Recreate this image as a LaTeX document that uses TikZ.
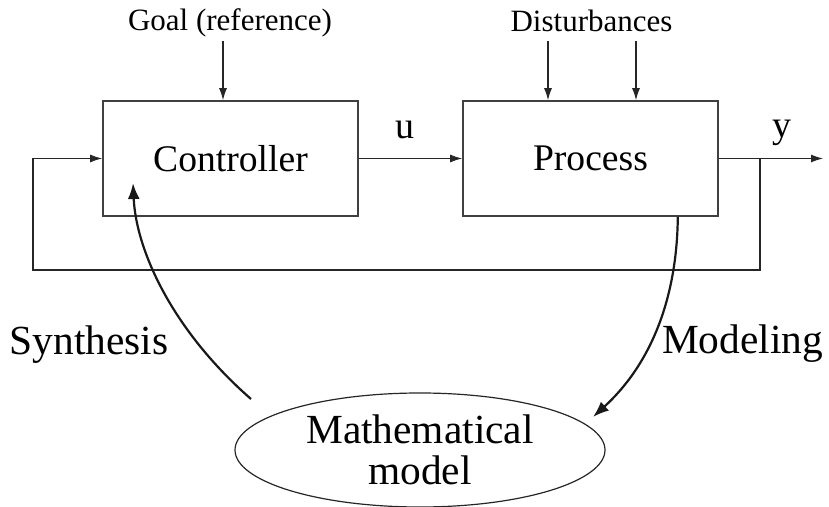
\documentclass[tikz,border=0pt]{standalone}
\usepackage{fontspec}
\setmainfont{Liberation Serif}
\usetikzlibrary{arrows.meta,positioning,calc,shapes.geometric}

\begin{document}
\begin{tikzpicture}[x=0.5pt,y=-0.5pt,
  block/.style={draw=black!75,line width=0.8pt,minimum width=127.5pt,minimum height=57.5pt,inner sep=0pt,font=\fontsize{18.8}{20}\selectfont},
  sig/.style={draw=black!85,line width=0.55pt,-{Latex[length=6pt,width=4pt]}},
  curvearrow/.style={draw=black!90,line width=1.1pt,-{Latex[length=8pt,width=6pt]}},
  small/.style={font=\fontsize{15.5}{17}\selectfont,inner sep=0pt,anchor=base},
  lab/.style={font=\fontsize{19}{20}\selectfont,inner sep=0pt,anchor=base},
  big/.style={font=\fontsize{20.7}{22}\selectfont,inner sep=0pt,anchor=base}
]
\useasboundingbox (0,0) rectangle (829,507);

% the blocks
\node[block] (ctrl) at (230.5,158.5) {Controller};
\node[block] (proc) at (590.5,158.5) {Process};
\node[ellipse,draw=black!85,line width=0.6pt,minimum width=185pt,minimum height=57pt,inner sep=0pt,
  align=center,font=\fontsize{20.7}{20.2}\selectfont] (mm) at (420,450) {Mathematical\\model};

% the labels
\node[small] (goal) at (230,31) {Goal (reference)};
\node[small] (dist) at (591.5,32) {Disturbances};
\node[lab] (u) at (405,139) {u};
\node[lab] (y) at (782,138) {y};
\node[big] (syn) at (89,355) {Synthesis};
\node[big] (mod) at (742.5,354) {Modeling};

\coordinate (out) at (823,158.5);
\coordinate (br) at (760,158.5);
\coordinate (fb) at (33,270);
\coordinate (synA) at (251,399);
\coordinate (synB) at (133,183);
\coordinate (modA) at ($(proc.south east)+(-41,0)$);
\coordinate (modB) at (593,417);

% the edges
\draw[sig] ([xshift=-3.75pt]ctrl.north) ++(0,-59) -- ([xshift=-3.75pt]ctrl.north);
\draw[sig] ([xshift=-21.25pt]proc.north) ++(0,-59) -- ([xshift=-21.25pt]proc.north);
\draw[sig] ([xshift=22.75pt]proc.north) ++(0,-59) -- ([xshift=22.75pt]proc.north);
\draw[sig] (ctrl) -- (proc);
\draw[sig] (proc) -- (out);
\draw[sig] (br) |- (fb) |- (ctrl.west);
\draw[curvearrow] (synA) .. controls (172,330) and (136,250) .. (synB);
\draw[curvearrow] (modA) .. controls (677,300) and (650,365) .. (modB);

\end{tikzpicture}
\end{document}
